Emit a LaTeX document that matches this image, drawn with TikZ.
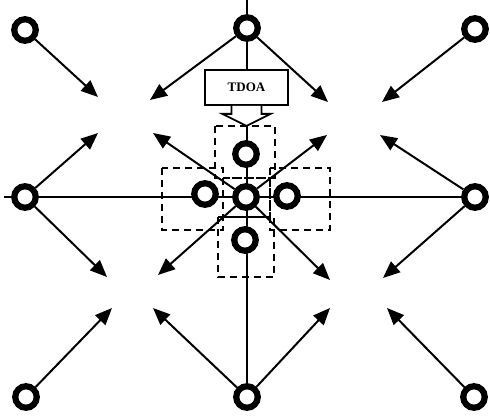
\documentclass[tikz,border=0pt]{standalone}
\usepackage{fontspec}
\setmainfont{Liberation Serif}
\usetikzlibrary{arrows.meta, backgrounds}
\tikzstyle{station} = [
    circle,
    draw=black,
    fill=white,
    line width=6.2pt,
    minimum size=21.5pt,
    inner sep=0pt
]
\tikzstyle{zone} = [
    draw=black,
    line width=1.8pt,
    dash pattern=on 7pt off 5pt
]
\tikzstyle{callout} = [
    rectangle,
    draw=black,
    fill=white,
    line width=1.8pt,
    minimum width=83pt,
    minimum height=35pt,
    font=\fontsize{13}{14}\selectfont\bfseries
]
\tikzstyle{arrow} = [line width=2pt,-{Triangle[length=17pt,width=14pt]}]
\tikzstyle{wire} = [line width=1.5pt]

\begin{document}
\begin{tikzpicture}[x=1pt, y=-1pt]
\useasboundingbox (0,0) rectangle (490,417);

% outer stations
\node (tl) [station] at (25,30) {};
\node (top) [station] at (247,28) {};
\node (tr) [station] at (475,29) {};
\node (left) [station] at (25,197) {};
\node (right) [station] at (475,197) {};
\node (bl) [station] at (26,397) {};
\node (bot) [station] at (247,397) {};
\node (br) [station] at (474,397) {};

% dashed zones
\draw [zone] (215,126) rectangle (275,178);
\draw [zone] (162,168) rectangle (223,230);
\draw [zone] (270,168) rectangle (330,230);
\draw [zone] (218,217) rectangle (274,277);
\draw [zone] (223,178) rectangle (270,217);

% inner stations
\node (cen) [station] at (246,197) {};
\node (itop) [station] at (246,154) {};
\node (ileft) [station] at (205,194) {};
\node (iright) [station] at (287,196) {};
\node (ibot) [station] at (245,240) {};

% callout
\node (tdoa) [callout] at (246.5,87.5) {TDOA};
\draw [line width=1.8pt, fill=white] ([xshift=-15pt]tdoa.south) -- ++(0,8)
    -- ++(-9,0) -- ([yshift=-20pt]tdoa.south) -- ([xshift=24pt, yshift=-8pt]tdoa.south)
    -- ++(-9,0) -- ([xshift=15pt]tdoa.south);

% arrow tips
\coordinate (p1) at (98,97);
\coordinate (p2) at (150,100);
\coordinate (p3) at (328,102);
\coordinate (p4) at (382,102);
\coordinate (p5) at (98,133);
\coordinate (p6) at (153,133);
\coordinate (p7) at (327,135);
\coordinate (p8) at (380,135);
\coordinate (p9) at (107,277);
\coordinate (p10) at (158,275);
\coordinate (p11) at (330,280);
\coordinate (p12) at (383,278);
\coordinate (p13) at (112,308);
\coordinate (p14) at (153,308);
\coordinate (p15) at (330,308);
\coordinate (p16) at (387,308);
\coordinate (west) at (4,197);
\coordinate (north) at (247,0);

\draw [arrow] (tl) -- (p1);
\draw [arrow] (top) -- (p2);
\draw [arrow] (top) -- (p3);
\draw [arrow] (tr) -- (p4);
\draw [arrow] (left) -- (p5);
\draw [arrow] (cen) -- (p6);
\draw [arrow] (cen) -- (p7);
\draw [arrow] (right) -- (p8);
\draw [arrow] (left) -- (p9);
\draw [arrow] (cen) -- (p10);
\draw [arrow] (cen) -- (p11);
\draw [arrow] (right) -- (p12);
\draw [arrow] (bl) -- (p13);
\draw [arrow] (bot) -- (p14);
\draw [arrow] (bot) -- (p15);
\draw [arrow] (br) -- (p16);

\begin{scope}[on background layer]
\draw [wire] (west) -- (right.center);
\draw [wire] (north) -- (bot.center);
\end{scope}

\end{tikzpicture}
\end{document}
